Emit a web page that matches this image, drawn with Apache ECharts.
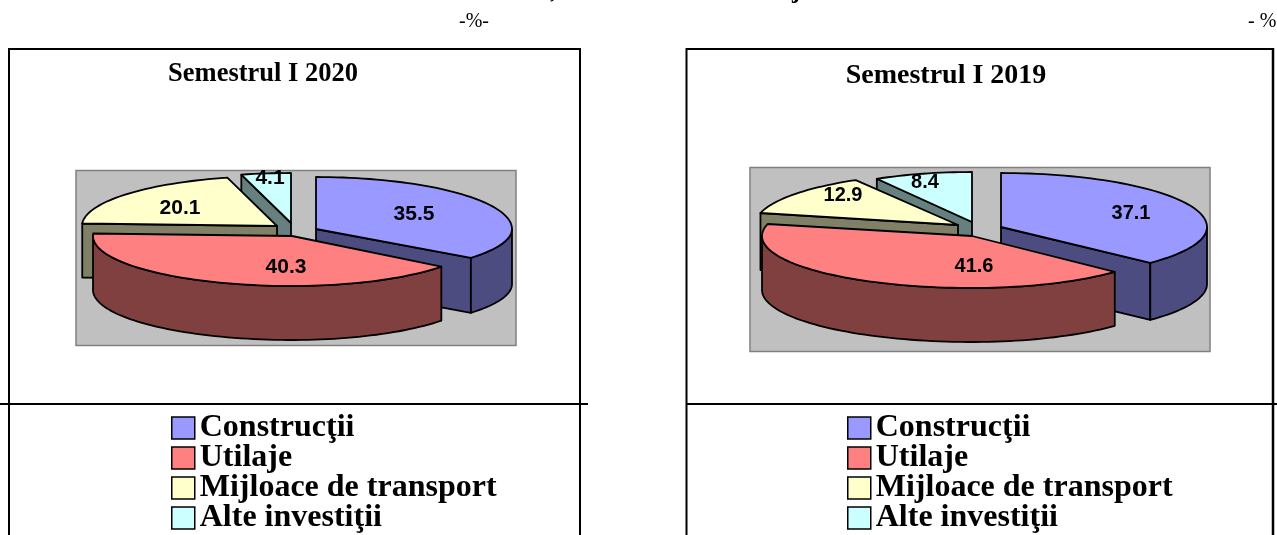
<!DOCTYPE html>
<html><head><meta charset="utf-8">
<style>html,body{margin:0;padding:0;background:#fff}#c{width:1277px;height:535px}</style>
<script src="https://cdn.jsdelivr.net/npm/echarts@6/dist/echarts.min.js"></script>
</head><body><div id="c"></div>
<script>
const categories = ['Construcţii','Utilaje','Mijloace de transport','Alte investiţii'];
const values2020 = [35.5,40.3,20.1,4.1];
const values2019 = [37.1,41.6,12.9,8.4];
const panelTitles = ['Semestrul I 2020','Semestrul I 2019'];
const colors = ['#9999FF','#FF8080','#FFFFCC','#CCFFFF'];
const sideColors = ['#4C4C80','#804040','#808066','#668080'];
const serif = '"Liberation Serif","Times New Roman",serif';
const sans = '"Liberation Sans",Arial,sans-serif';

/* layout of each exploded slice: apex, half-axes (left/right, back/front), wall depth, label centre */
const layout2020 = {fontSize:21, slices:[
  {cx:316,cy:229,rxL:196,rxR:196,ryB:52,ryF:47,d:55,lx:414,ly:214},
  {cx:292,cy:236,rxL:199,rxR:189,ryB:50,ryF:50,d:54,lx:286,ly:267},
  {cx:277,cy:226,rxL:195,rxR:195,ryB:50,ryF:50,d:54,lx:180,ly:208},
  {cx:291,cy:223,rxL:195,rxR:195,ryB:50,ryF:50,d:54,lx:270,ly:178}]};
const layout2019 = {fontSize:20, slices:[
  {cx:1001,cy:227,rxL:206,rxR:206,ryB:54,ryF:52,d:57,lx:1131,ly:213},
  {cx:972,cy:236,rxL:210,rxR:197,ryB:52,ryF:52,d:54,lx:974,ly:266},
  {cx:958,cy:225,rxL:203,rxR:203,ryB:52,ryF:52,d:57,lx:843,ly:195},
  {cx:972,cy:222,rxL:189,rxR:189,ryB:50,ryF:50,d:54,lx:925,ly:182}]};

function pt(s,deg,dz){
  const t=deg*Math.PI/180, sn=Math.sin(t), cs=Math.cos(t);
  return [s.cx+sn*(sn>=0?s.rxR:s.rxL), s.cy-cs*(cs>=0?s.ryB:s.ryF)+dz];
}
function arc(s,a,b,dz){
  const out=[]; const n=Math.max(2,Math.ceil((b-a)/2));
  for(let i=0;i<=n;i++) out.push(pt(s,a+(b-a)*i/n,dz));
  return out;
}
const edge={stroke:'#000',lineWidth:1.8,lineJoin:'round'};
const drawOrder=[2,3,1,0];
const paintIdx=[3,2,0,1];
function sliceSeries(values,lay,idx){
  const total=values.reduce((a,b)=>a+b,0);
  const start=values.slice(0,idx).reduce((a,b)=>a+b,0)/total*360;
  const end=start+values[idx]/total*360;
  const s=lay.slices[idx];
  return {
    type:'custom', name:categories[idx], coordinateSystem:'none', silent:true,
    itemStyle:{color:colors[idx]}, z:3, data:[[values[idx]]],
    renderItem:function(){
      const base=drawOrder[idx]*10;
      const ch=[], side=Object.assign({fill:sideColors[idx]},edge);
      const face=function(deg){
        const r=pt(s,deg,0);
        ch.push({type:'polygon',z2:base+1,shape:{points:[[s.cx,s.cy],r,[r[0],r[1]+s.d],[s.cx,s.cy+s.d]]},style:side});
      };
      if(Math.sin(start*Math.PI/180)<-1e-6) face(start);
      if(Math.sin(end*Math.PI/180)>1e-6) face(end);
      const w0=Math.max(start,90), w1=Math.min(end,270);
      if(w1>w0){
        ch.push({type:'polygon',z2:base+2,shape:{points:arc(s,w0,w1,0).concat(arc(s,w0,w1,s.d).reverse())},style:side});
      }
      ch.push({type:'polygon',z2:base+3,
        shape:{points:[[s.cx,s.cy]].concat(arc(s,start,end,0))},
        style:Object.assign({fill:colors[idx]},edge)});
      ch.push({type:'text',z2:100,x:s.lx,y:s.ly,
        style:{text:values[idx].toFixed(1),fill:'#000',align:'center',verticalAlign:'middle',
          font:'bold '+lay.fontSize+'px '+sans}});
      return {type:'group',children:ch};
    }
  };
}
const series=[];
paintIdx.forEach(i=>series.push(sliceSeries(values2020,layout2020,i)));
paintIdx.forEach(i=>series.push(sliceSeries(values2019,layout2019,i)));

function ln(x1,y1,x2,y2,w){return {type:'line',z:1,shape:{x1,y1,x2,y2},style:{stroke:'#000',lineWidth:w||2}};}
function legend(left){
  return {orient:'vertical',left:left,top:407,height:130,itemWidth:23,itemHeight:22,itemGap:-2,icon:'rect',
    data:categories,selectedMode:false,
    itemStyle:{borderColor:'#000',borderWidth:1.5},
    textStyle:{fontFamily:serif,fontWeight:'bold',fontSize:32,color:'#000'}};
}
const chart=echarts.init(document.getElementById('c'),null,{renderer:'canvas'});
chart.setOption({
  animation:false, backgroundColor:'#fff',
  title:[
    {text:panelTitles[0],left:258,top:56,textAlign:'center',textStyle:{fontFamily:serif,fontWeight:'bold',fontSize:26.5,color:'#000'}},
    {text:panelTitles[1],left:941,top:57,textAlign:'center',textStyle:{fontFamily:serif,fontWeight:'bold',fontSize:28,color:'#000'}}
  ],
  legend:[legend(166),legend(842)],
  graphic:[
    {type:'rect',z:0,shape:{x:76,y:170.5,width:440,height:175},style:{fill:'#C0C0C0',stroke:'#808080',lineWidth:1.5}},
    {type:'rect',z:0,shape:{x:750,y:167.5,width:460,height:184},style:{fill:'#C0C0C0',stroke:'#808080',lineWidth:1.5}},
    ln(9,535,9,48),ln(8,49,581,49),ln(580,48,580,535),ln(0,404,588,404),
    ln(686.5,535,686.5,48),ln(686,49,1274,49),ln(1273,48,1273,535,2.5),ln(686,404,1277,404),
    {type:'text',z:1,x:459,y:12,style:{text:'-%-',font:'20px '+serif,fill:'#000'}},
    {type:'text',z:1,x:1248,y:12,style:{text:'- %',font:'20px '+serif,fill:'#000'}},
    {type:'text',z:1,x:320,y:-21,style:{text:'Structura investitiilor, in total economie din judetul nostru',align:'left',font:'bold 25px '+serif,fill:'#000'}}
  ],
  series:series
});
</script></body></html>
